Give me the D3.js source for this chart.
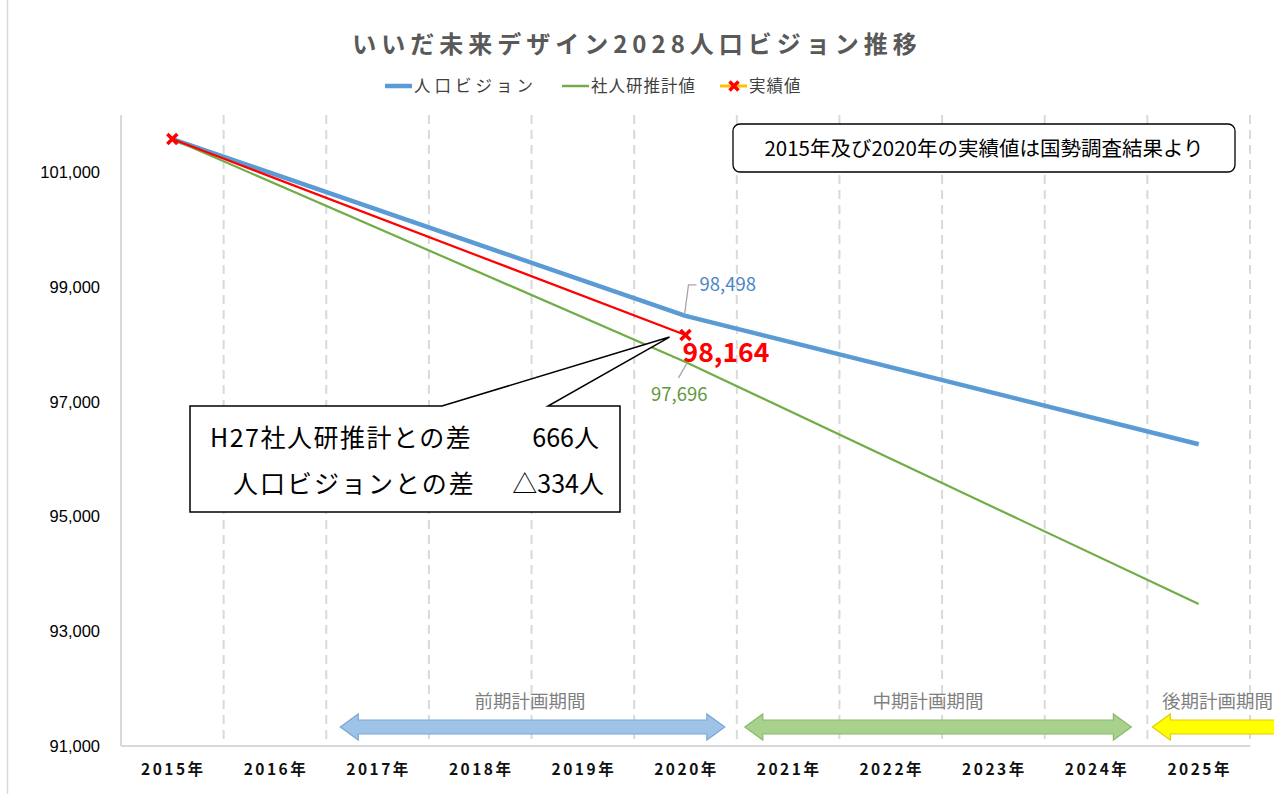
<!DOCTYPE html>
<meta charset="UTF-8">
<style>
body { margin: 0; background: #fff; }
svg { display: block; }
.jp { font-family: "Noto Sans CJK JP", "Noto Sans", sans-serif; }
</style>
<body>
<script src="https://d3js.org/d3.v7.min.js"></script>
<script>

// categories (x axis)
var years = ["2015年", "2016年", "2017年", "2018年", "2019年", "2020年",
             "2021年", "2022年", "2023年", "2024年", "2025年"];

// series values (null = no point that year)
var vision  = [101581, null, null, null, null, 98498, null, null, null, null, 96261];
var ipss    = [101581, null, null, null, null, 97696, null, null, null, null, 93474];
var actual  = [101581, null, null, null, null, 98164, null, null, null, null, null];

// y ticks
var yTicks = [91000, 93000, 95000, 97000, 99000, 101000];

// planning periods
var periodNames = ["前期計画期間", "中期計画期間", "後期計画期間"];
var periodFrom  = ["2017年", "2021年", "2025年"];
var periodTo    = ["2020年", "2024年", null];

var W = 1274, H = 794;
var plot = {left: 121, right: 1250, top: 115, bottom: 746};

var svg = d3.select("body").append("svg")
    .attr("width", W)
    .attr("height", H);

svg.append("rect").attr("width", W).attr("height", H).attr("fill", "#fff");
// chart frame (left edge visible)
svg.append("line").attr("x1", 7.5).attr("x2", 7.5).attr("y1", 0).attr("y2", H)
    .attr("stroke", "#d9d9d9").attr("stroke-width", 1.5);

var x = d3.scaleBand().domain(years).range([plot.left, plot.right]).padding(0);
var y = d3.scaleLinear().domain([91000, 102000]).range([plot.bottom, plot.top]);
var cx = function(yr) { return x(yr) + x.bandwidth() / 2; };

// vertical dashed gridlines at category boundaries
svg.append("g").selectAll("line")
  .data(years)
  .enter().append("line")
    .attr("x1", function(d) { return x(d) + x.bandwidth(); })
    .attr("x2", function(d) { return x(d) + x.bandwidth(); })
    .attr("y1", plot.top)
    .attr("y2", plot.bottom)
    .attr("stroke", "#d9d9d9")
    .attr("stroke-width", 2)
    .attr("stroke-dasharray", "9,6");

// axes lines
svg.append("line").attr("x1", plot.left).attr("x2", plot.left)
    .attr("y1", plot.top).attr("y2", plot.bottom)
    .attr("stroke", "#d9d9d9").attr("stroke-width", 2);
svg.append("line").attr("x1", plot.left).attr("x2", plot.right)
    .attr("y1", plot.bottom).attr("y2", plot.bottom)
    .attr("stroke", "#d9d9d9").attr("stroke-width", 2);

// y tick labels
svg.append("g").selectAll("text")
  .data(yTicks)
  .enter().append("text")
    .attr("x", 100)
    .attr("y", function(d) { return y(d); })
    .attr("dy", "0.35em")
    .attr("text-anchor", "end")
    .style("font-family", "'Liberation Sans', Arial, sans-serif")
    .style("font-size", "16.5px")
    .attr("fill", "#000")
    .text(d3.format(","));

// x tick labels
svg.append("g").selectAll("text")
  .data(years)
  .enter().append("text")
    .attr("class", "jp")
    .attr("x", function(d) { return cx(d) + 1; })
    .attr("y", 775)
    .attr("text-anchor", "middle")
    .style("font-size", "15.5px")
    .style("font-weight", "bold")
    .style("letter-spacing", "2.5px")
    .attr("fill", "#111")
    .text(function(d) { return d; });

// lines
function pts(vals) {
  return years.map(function(yr, i) { return {yr: yr, v: vals[i]}; })
              .filter(function(d) { return d.v != null; });
}
var line = d3.line().x(function(d) { return cx(d.yr); }).y(function(d) { return y(d.v); });

svg.append("path").datum(pts(vision)).attr("d", line)
    .attr("fill", "none").attr("stroke", "#5b9bd5").attr("stroke-width", 4.5)
    .attr("stroke-linejoin", "round");
svg.append("path").datum(pts(ipss)).attr("d", line)
    .attr("fill", "none").attr("stroke", "#70ad47").attr("stroke-width", 2.2);
svg.append("path").datum(pts(actual)).attr("d", line)
    .attr("fill", "none").attr("stroke", "#ff0000").attr("stroke-width", 2.2);

// X markers
function xMark(g, px, py, s) {
  g.append("path")
    .attr("d", "M" + (px - s) + "," + (py - s) + "L" + (px + s) + "," + (py + s) +
               "M" + (px - s) + "," + (py + s) + "L" + (px + s) + "," + (py - s))
    .attr("stroke", "#ff0000").attr("stroke-width", 3.5).attr("fill", "none");
}
pts(actual).forEach(function(d) { xMark(svg, cx(d.yr), y(d.v), 5); });

// data labels for 2020
var i20 = years.indexOf("2020年");
var x20 = cx("2020年");
var yb = y(vision[i20]), yg = y(ipss[i20]), yr = y(actual[i20]);

svg.append("path")
    .attr("d", "M" + (x20 - 1) + "," + (yb - 1) + "L" + (x20 + 3) + "," + (yb - 31) + "L" + (x20 + 11) + "," + (yb - 31))
    .attr("fill", "none").attr("stroke", "#a6a6a6").attr("stroke-width", 1.3);
svg.append("text").attr("class", "jp")
    .attr("x", x20 + 14).attr("y", yb - 31).attr("dy", "0.35em")
    .style("font-size", "18.5px").attr("fill", "#4a86c5")
    .text(d3.format(",")(vision[i20]));

svg.append("path")
    .attr("d", "M" + (x20 + 1) + "," + (yg + 2) + "L" + (x20 - 7) + "," + (yg + 16))
    .attr("fill", "none").attr("stroke", "#a6a6a6").attr("stroke-width", 1.3);
svg.append("text").attr("class", "jp")
    .attr("x", x20 + 22).attr("y", yg + 33).attr("dy", "0.35em")
    .attr("text-anchor", "end")
    .style("font-size", "18.5px").attr("fill", "#5f9a3c")
    .text(d3.format(",")(ipss[i20]));

svg.append("text").attr("class", "jp")
    .attr("x", x20 - 3).attr("y", yr + 18).attr("dy", "0.35em")
    .style("font-size", "26.5px").style("font-weight", "bold").attr("fill", "#ff0000")
    .text(d3.format(",")(actual[i20]));

// callout box
var bx0 = 190, by0 = 406, bx1 = 620, by1 = 512;
var tipX = x20 - 16, tipY = yr + 2;
svg.append("path")
    .attr("d", "M" + bx0 + "," + by0 + "L442," + by0 + "L" + tipX + "," + tipY +
               "L548," + by0 + "L" + bx1 + "," + by0 + "L" + bx1 + "," + by1 +
               "L" + bx0 + "," + by1 + "Z")
    .attr("fill", "#fff").attr("stroke", "#000").attr("stroke-width", 1.5)
    .attr("stroke-linejoin", "miter");

var calloutLeft  = ["H27社人研推計との差", "人口ビジョンとの差"];
var calloutRight = ["666人", "△334人"];
var calloutLeftX = [210, 233];
var calloutRightX = [599, 604];
var calloutSpacing = ["1.5px", "2px"];
calloutLeft.forEach(function(t, k) {
  svg.append("text").attr("class", "jp")
      .attr("x", calloutLeftX[k]).attr("y", 438 + k * 46).attr("dy", "0.35em")
      .style("font-size", "25px").style("letter-spacing", calloutSpacing[k])
      .attr("fill", "#000").text(t);
  svg.append("text").attr("class", "jp")
      .attr("x", calloutRightX[k]).attr("y", 438 + k * 46).attr("dy", "0.35em")
      .attr("text-anchor", "end")
      .style("font-size", "25px").attr("fill", "#000").text(calloutRight[k]);
});

// note box
svg.append("rect")
    .attr("x", 733).attr("y", 124).attr("width", 502).attr("height", 48)
    .attr("rx", 7).attr("fill", "#fff").attr("stroke", "#000").attr("stroke-width", 1.3);
svg.append("text").attr("class", "jp")
    .attr("x", 984).attr("y", 149).attr("dy", "0.35em")
    .attr("text-anchor", "middle")
    .style("font-size", "20.5px").attr("fill", "#000")
    .text("2015年及び2020年の実績値は国勢調査結果より");

// period arrows
var arrowFill   = ["#9dc3e6", "#a9d18e", "#ffff00"];
var arrowStroke = ["#7aa7d8", "#88ba6a", "#e0d000"];
var padL = [14, 8, 5], padR = [12, 16, 0];
var labelX = [530, 928, 1162], labelAnchor = ["middle", "middle", "start"];
var ay = 727, shaft = 7, head = 13, hl = 18;
periodNames.forEach(function(name, k) {
  var xa = x(periodFrom[k]) + padL[k];
  var xb = periodTo[k] ? x(periodTo[k]) + x.bandwidth() - padR[k]
                       : x(periodFrom[k]) + x.bandwidth() * 3;
  var d = "M" + xa + "," + ay +
          "L" + (xa + hl) + "," + (ay - head) +
          "L" + (xa + hl) + "," + (ay - shaft) +
          "L" + (xb - hl) + "," + (ay - shaft) +
          "L" + (xb - hl) + "," + (ay - head) +
          "L" + xb + "," + ay +
          "L" + (xb - hl) + "," + (ay + head) +
          "L" + (xb - hl) + "," + (ay + shaft) +
          "L" + (xa + hl) + "," + (ay + shaft) +
          "L" + (xa + hl) + "," + (ay + head) + "Z";
  svg.append("path").attr("d", d)
      .attr("fill", arrowFill[k]).attr("stroke", arrowStroke[k]).attr("stroke-width", 1.2);
  svg.append("text").attr("class", "jp")
      .attr("x", labelX[k]).attr("y", 702).attr("dy", "0.35em")
      .attr("text-anchor", labelAnchor[k])
      .style("font-size", "18.5px").attr("fill", "#7f7f7f")
      .text(name);
});

// title
svg.append("text").attr("class", "jp")
    .attr("x", 637).attr("y", 45).attr("dy", "0.35em")
    .attr("text-anchor", "middle")
    .style("font-size", "24px").style("font-weight", "bold")
    .style("letter-spacing", "5px")
    .attr("fill", "#595959")
    .text("いいだ未来デザイン2028人口ビジョン推移");

// legend
var legNames = ["人口ビジョン", "社人研推計値", "実績値"];
var legX = [385, 562, 720];
var legColor = ["#5b9bd5", "#70ad47", "#ffc000"];
var legWidth = [4.5, 2.5, 3];
legNames.forEach(function(n, k) {
  svg.append("line")
      .attr("x1", legX[k]).attr("x2", legX[k] + 27)
      .attr("y1", 86).attr("y2", 86)
      .attr("stroke", legColor[k]).attr("stroke-width", legWidth[k]);
  if (k === 2) xMark(svg, legX[k] + 14, 86, 4.5);
  svg.append("text").attr("class", "jp")
      .attr("x", legX[k] + 29).attr("y", 86).attr("dy", "0.35em")
      .style("font-size", "16.5px").style("letter-spacing", k === 0 ? "4px" : "1px")
      .attr("fill", "#404040")
      .text(n);
});

</script>
</body>
